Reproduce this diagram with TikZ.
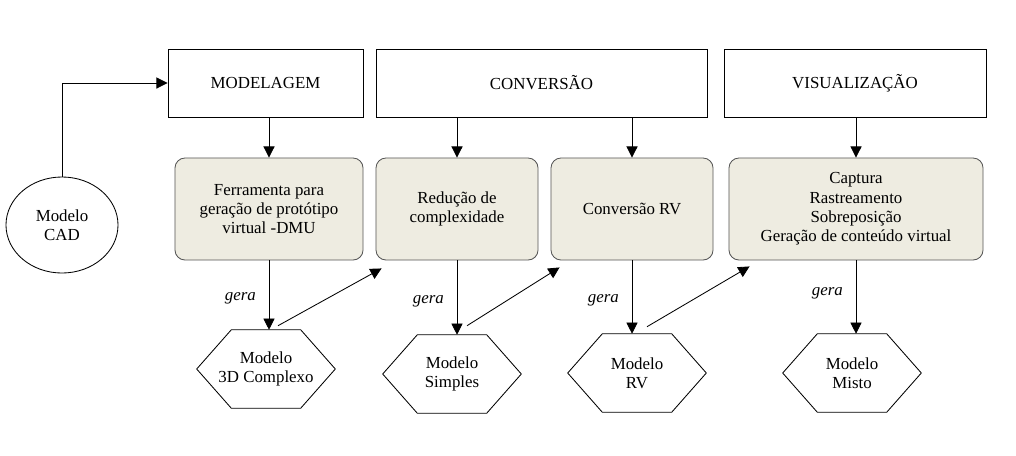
\documentclass[tikz,border=0pt]{standalone}
\usepackage{fontspec}
\setmainfont{Liberation Serif}
\usetikzlibrary{calc,arrows.meta,shapes.geometric}
\definecolor{taskfill}{HTML}{EEECE1}
\definecolor{taskline}{HTML}{555555}
\tikzset{
    every node/.style={font=\fontsize{12pt}{13.7pt}\selectfont},
    stage/.style={draw, black, line width=0.6pt, minimum height=1.7cm},
    task/.style={
        draw=taskline, fill=taskfill, line width=0.6pt,
        rounded corners=0.25cm, minimum height=2.55cm, align=center
    },
    model/.style={minimum width=3.45cm, minimum height=1.95cm, align=center, inner sep=0pt},
    source/.style={draw, ellipse, line width=0.6pt, minimum width=2.8cm, minimum height=2.4cm, align=center},
    flow/.style={line width=0.6pt, -{Triangle[length=2.8mm, width=2.8mm]}},
    gera/.style={font=\fontsize{12pt}{13.7pt}\selectfont\itshape, left=0.2cm, pos=0.55}
}
% hexagon outline round a model node
\newcommand{\hexborder}[1]{%
    \draw[line width=0.6pt] (#1.west) -- ($(#1.north west)!.25!(#1.north east)$)
        -- ($(#1.north west)!.75!(#1.north east)$) -- (#1.east)
        -- ($(#1.south west)!.75!(#1.south east)$) -- ($(#1.south west)!.25!(#1.south east)$) -- cycle;}
\begin{document}
\begin{tikzpicture}[x=0.025cm, y=-0.025cm]
    \useasboundingbox (0,0) rectangle (1016,455);
    % phases
    \node[stage, minimum width=4.875cm] (mod) at (265.5,83) {MODELAGEM};
    \node[stage, minimum width=8.275cm] (conv) at (541.5,83) {CONVERSÃO};
    \node[stage, minimum width=6.55cm] (vis) at (855,83) {VISUALIZAÇÃO};
    % tasks
    \node[task, minimum width=4.7cm] (ferr) at (269,209) {Ferramenta para\\geração de protótipo\\virtual -DMU};
    \node[task, minimum width=4.05cm] (red) at (457,209) {Redução de\\complexidade};
    \node[task, minimum width=4.05cm] (crv) at (632,209) {Conversão RV};
    \node[task, minimum width=6.35cm] (cap) at (856,209) {Captura\\Rastreamento\\Sobreposição\\Geração de conteúdo virtual};
    % models
    \node[source] (cad) at (62,225) {Modelo\\CAD};
    \node[model] (m3d) at (266,369) {Modelo\\3D Complexo};
    \node[model] (msim) at (452,374) {Modelo\\Simples};
    \node[model] (mrv) at (637,373) {Modelo\\RV};
    \node[model] (mmis) at (852,373) {Modelo\\Misto};
    \foreach \m in {m3d,msim,mrv,mmis} \hexborder{\m};

    \draw[flow] (cad.north) |- (mod.west);
    \draw[flow] (ferr.north |- mod.south) -- (ferr.north);
    \draw[flow] (red.north |- conv.south) -- (red.north);
    \draw[flow] (crv.north |- conv.south) -- (crv.north);
    \draw[flow] (cap.north |- vis.south) -- (cap.north);

    \draw[flow] (ferr.south) -- node[gera] {gera} (ferr.south |- m3d.north);
    \draw[flow] (red.south) -- node[gera] {gera} (red.south |- msim.north);
    \draw[flow] (crv.south) -- node[gera] {gera} (crv.south |- mrv.north);
    \draw[flow] (cap.south) -- node[gera, pos=0.45] {gera} (cap.south |- mmis.north);

    % model feeds the next task
    \coordinate (s1) at ($(m3d.north)+(12,-4)$);
    \coordinate (e1) at ($(red.south west)+(6,8)$);
    \coordinate (s2) at ($(msim.north)+(15,-9)$);
    \coordinate (e2) at ($(crv.south west)+(9,7)$);
    \coordinate (s3) at ($(mrv.north)+(10,-7)$);
    \coordinate (e3) at ($(cap.south west)+(21,6)$);
    \draw[flow] (s1) -- (e1);
    \draw[flow] (s2) -- (e2);
    \draw[flow] (s3) -- (e3);
\end{tikzpicture}
\end{document}
